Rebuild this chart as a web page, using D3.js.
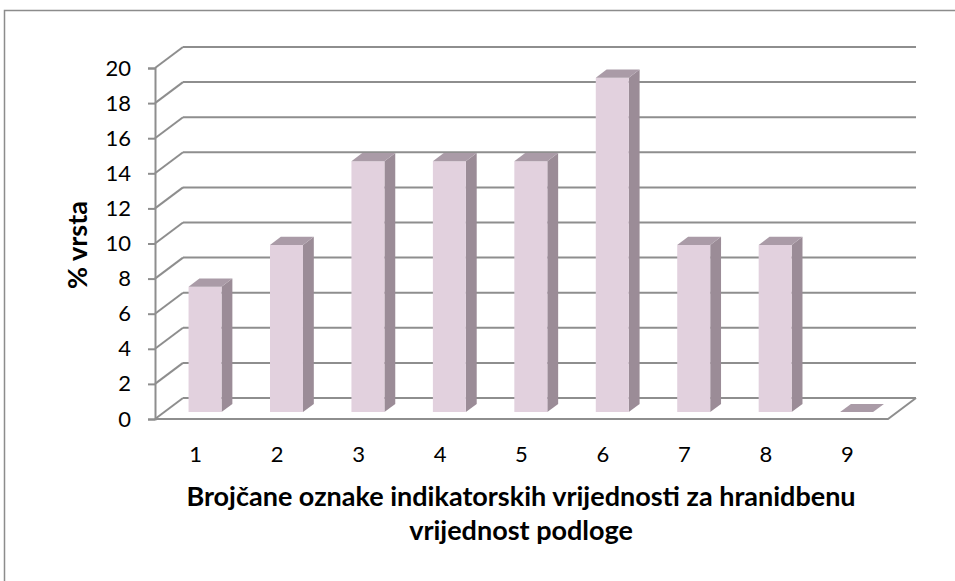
<!DOCTYPE html>
<html>
<head>
<meta charset="utf-8">
<script src="https://cdn.jsdelivr.net/npm/d3@7"></script>
<style>
  body { margin: 0; background: #fff; }
  svg { display: block; font-family: Lato, "Open Sans", sans-serif; }
</style>
</head>
<body>
<div id="chart"></div>
<script>
const categories = ["1", "2", "3", "4", "5", "6", "7", "8", "9"];
const values = [7.14, 9.52, 14.29, 14.29, 14.29, 19.05, 9.52, 9.52, 0];
const yTicks = [0, 2, 4, 6, 8, 10, 12, 14, 16, 18, 20];
const yTitle = "% vrsta";
const xTitle = ["Brojčane oznake indikatorskih vrijednosti za hranidbenu", "vrijednost podloge"];

const width = 955;
const height = 581;

const svg = d3.select("#chart").append("svg")
  .attr("width", width)
  .attr("height", height);

// outer chart frame (cut off on the right and bottom)
svg.append("rect")
  .attr("x", 4.5).attr("y", 10.5)
  .attr("width", 1000).attr("height", 700)
  .style("fill", "none")
  .style("stroke", "#8c8c8c")
  .style("stroke-width", 1.5);

const plot = { left: 155, right: 888, top: 68, bottom: 419 };
const depth = { dx: 28, dy: -21 };
const gridColor = "#8e8e8e";

const x = d3.scaleBand().domain(categories).range([plot.left, plot.right]).paddingInner(0);
const y = d3.scaleLinear().domain([0, 20]).range([plot.bottom, plot.top]);

// project point at depth t (0 = front, 1 = back wall)
const px = (xv, t) => xv + t * depth.dx;
const py = (yv, t) => yv + t * depth.dy;

const grid = svg.append("g").style("stroke", gridColor).style("stroke-width", 2).style("fill", "none");

// back wall gridlines + side wall diagonals
yTicks.forEach((v) => {
  grid.append("line")
    .attr("x1", px(plot.left, 1)).attr("y1", py(y(v), 1))
    .attr("x2", px(plot.right, 1)).attr("y2", py(y(v), 1));
  grid.append("line")
    .attr("x1", plot.left).attr("y1", y(v))
    .attr("x2", px(plot.left, 1)).attr("y2", py(y(v), 1));
});

// floor
grid.append("path")
  .attr("d", d3.line()([
    [plot.left, y(0)],
    [plot.right, y(0)],
    [px(plot.right, 1), py(y(0), 1)],
  ]));

// front y axis
svg.append("g")
  .attr("transform", "translate(" + plot.left + ",0)")
  .call(d3.axisLeft(y).tickValues(yTicks).tickSize(7).tickPadding(17))
  .call((g) => g.attr("font-family", null).attr("font-size", null))
  .call((g) => g.select(".domain").attr("stroke", gridColor).attr("stroke-width", 2))
  .call((g) => g.selectAll(".tick line").attr("stroke", gridColor).attr("stroke-width", 2))
  .call((g) => g.selectAll(".tick text").style("font-size", "22px").attr("fill", "#000"));

// bars
const barW = x.bandwidth() * 0.405;
const t0 = 0.333;
const t1 = 0.72;
const bars = svg.append("g");

categories.forEach((c, i) => {
  const v = values[i];
  const xl = x(c) + x.bandwidth() / 2 - barW / 2;
  const xr = xl + barW;
  const yb = y(0);
  const yt = y(v);
  const front = [[px(xl, t0), py(yt, t0)], [px(xr, t0), py(yt, t0)], [px(xr, t0), py(yb, t0)], [px(xl, t0), py(yb, t0)]];
  const side = [[px(xr, t0), py(yt, t0)], [px(xr, t1), py(yt, t1)], [px(xr, t1), py(yb, t1)], [px(xr, t0), py(yb, t0)]];
  const top = [[px(xl, t0), py(yt, t0)], [px(xl, t1), py(yt, t1)], [px(xr, t1), py(yt, t1)], [px(xr, t0), py(yt, t0)]];
  if (v > 0) {
    bars.append("polygon").attr("points", side.join(" ")).style("fill", "#9b8c97");
    bars.append("polygon").attr("points", front.join(" ")).style("fill", "#e2d1de");
  }
  bars.append("polygon").attr("points", top.join(" ")).style("fill", "#aa9ba7");
});

// x category labels
svg.append("g")
  .selectAll("text")
  .data(categories)
  .enter()
  .append("text")
  .attr("x", (d) => x(d) + x.bandwidth() / 2)
  .attr("y", 462)
  .attr("text-anchor", "middle")
  .style("font-size", "22px")
  .text((d) => d);

// axis titles
svg.append("text")
  .attr("transform", "translate(87,245) rotate(-90)")
  .attr("text-anchor", "middle")
  .style("font-size", "27px")
  .style("font-weight", "bold")
  .text(yTitle);

svg.append("g")
  .selectAll("text")
  .data(xTitle)
  .enter()
  .append("text")
  .attr("x", 521)
  .attr("y", (d, i) => 506 + i * 34)
  .attr("text-anchor", "middle")
  .style("font-size", "27px")
  .style("font-weight", "bold")
  .text((d) => d);
</script>
</body>
</html>
